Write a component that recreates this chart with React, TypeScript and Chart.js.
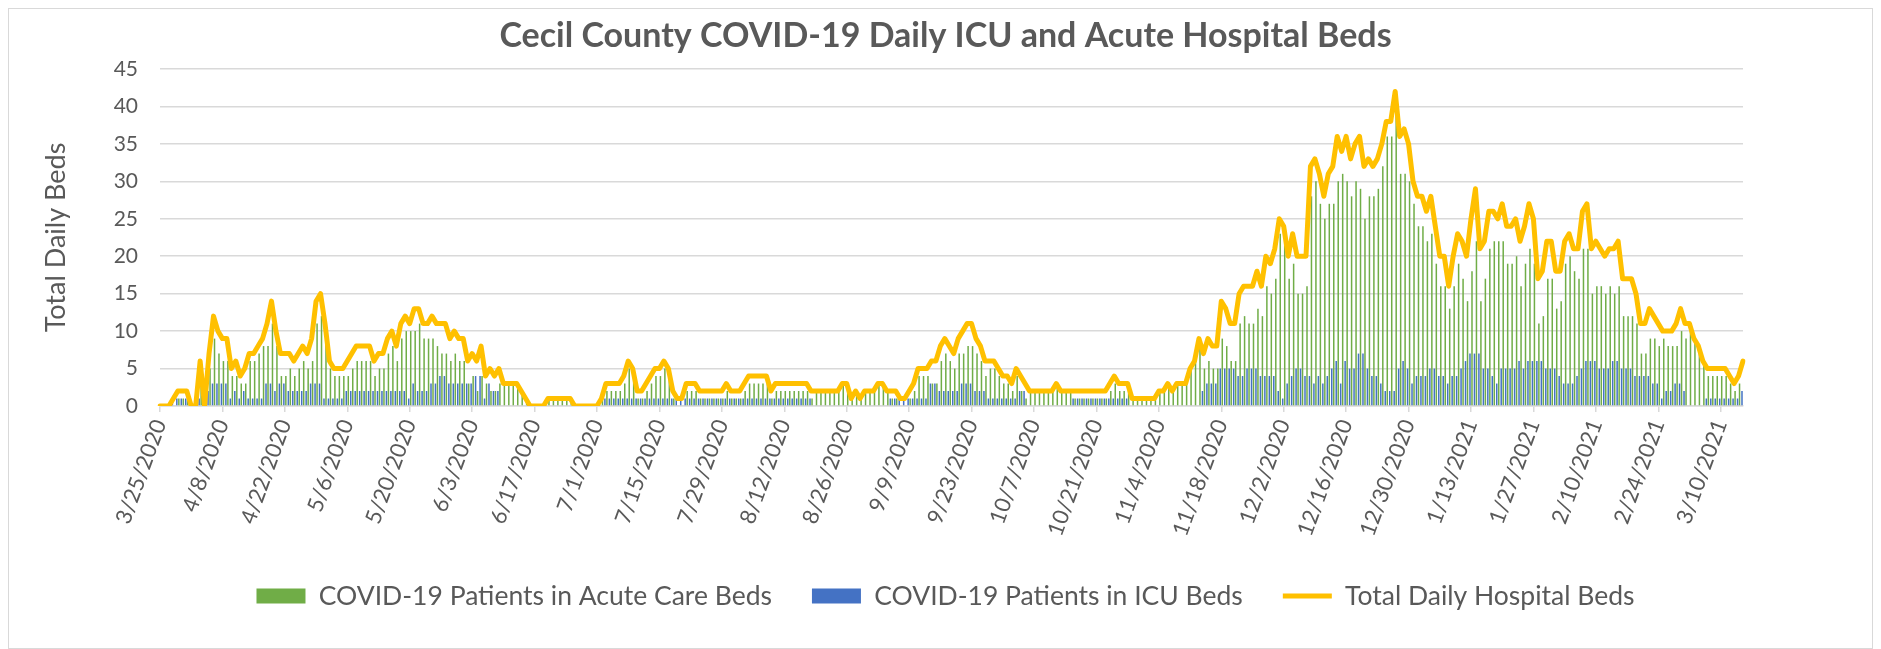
import { useEffect, useRef } from "react";
import { Chart, registerables } from "chart.js";

Chart.register(...registerables);

const CHART_TITLE = "Cecil County COVID-19 Daily ICU and Acute Hospital Beds";
const Y_TITLE = "Total Daily Beds";
const SERIES_NAMES = [
  "COVID-19 Patients in Acute Care Beds",
  "COVID-19 Patients in ICU Beds",
  "Total Daily Hospital Beds",
];
// first day of the series: year, month, day
const START_DATE = [2020, 3, 25];
// a date label is shown every TICK_EVERY days
const TICK_EVERY = 14;
const Y_MIN = 0;
const Y_MAX = 45;
const Y_STEP = 5;

const TOTAL_BEDS = [
  0, 0, 0, 1, 2, 2, 2, 0, 0, 6,
  0, 7, 12, 10, 9, 9, 5, 6, 4, 5,
  7, 7, 8, 9, 11, 14, 10, 7, 7, 7,
  6, 7, 8, 7, 9, 14, 15, 11, 6, 5,
  5, 5, 6, 7, 8, 8, 8, 8, 6, 7,
  7, 9, 10, 8, 11, 12, 11, 13, 13, 11,
  11, 12, 11, 11, 11, 9, 10, 9, 9, 6,
  7, 6, 8, 4, 5, 4, 5, 3, 3, 3,
  3, 2, 1, 0, 0, 0, 0, 1, 1, 1,
  1, 1, 1, 0, 0, 0, 0, 0, 0, 1,
  3, 3, 3, 3, 4, 6, 5, 2, 2, 3,
  4, 5, 5, 6, 5, 2, 1, 1, 3, 3,
  3, 2, 2, 2, 2, 2, 2, 3, 2, 2,
  2, 3, 4, 4, 4, 4, 4, 2, 3, 3,
  3, 3, 3, 3, 3, 3, 2, 2, 2, 2,
  2, 2, 2, 3, 3, 1, 2, 1, 2, 2,
  2, 3, 3, 2, 2, 2, 1, 1, 2, 3,
  5, 5, 5, 6, 6, 8, 9, 8, 7, 9,
  10, 11, 11, 9, 8, 6, 6, 6, 5, 4,
  4, 3, 5, 4, 3, 2, 2, 2, 2, 2,
  2, 3, 2, 2, 2, 2, 2, 2, 2, 2,
  2, 2, 2, 3, 4, 3, 3, 3, 1, 1,
  1, 1, 1, 1, 2, 2, 3, 2, 3, 3,
  3, 5, 6, 9, 7, 9, 8, 8, 14, 13,
  11, 11, 15, 16, 16, 16, 18, 16, 20, 19,
  21, 25, 24, 20, 23, 20, 20, 20, 32, 33,
  31, 28, 31, 32, 36, 34, 36, 33, 35, 36,
  32, 33, 32, 33, 35, 38, 38, 42, 36, 37,
  35, 30, 28, 28, 26, 28, 24, 20, 20, 16,
  20, 23, 22, 20, 25, 29, 21, 22, 26, 26,
  25, 27, 24, 24, 25, 22, 24, 27, 25, 17,
  18, 22, 22, 18, 18, 22, 23, 21, 21, 26,
  27, 21, 22, 21, 20, 21, 21, 22, 17, 17,
  17, 15, 11, 11, 13, 12, 11, 10, 10, 10,
  11, 13, 11, 11, 9, 8, 6, 5, 5, 5,
  5, 5, 4, 3, 4, 6,
];

const ICU_BEDS = [
  0, 0, 0, 1, 1, 1, 1, 0, 0, 1,
  0, 2, 3, 3, 3, 3, 1, 2, 1, 2,
  1, 1, 1, 1, 3, 3, 2, 3, 3, 2,
  2, 2, 2, 2, 3, 3, 3, 1, 1, 1,
  1, 1, 2, 2, 2, 2, 2, 2, 2, 2,
  2, 2, 2, 2, 2, 2, 1, 3, 2, 2,
  2, 3, 3, 4, 4, 3, 3, 3, 3, 3,
  3, 4, 4, 1, 3, 2, 2, 0, 0, 0,
  0, 0, 0, 0, 0, 0, 0, 0, 0, 0,
  0, 0, 0, 0, 0, 0, 0, 0, 0, 0,
  1, 1, 1, 1, 1, 1, 1, 1, 1, 1,
  1, 1, 1, 1, 1, 1, 1, 1, 1, 1,
  1, 1, 1, 1, 1, 1, 1, 1, 1, 1,
  1, 1, 1, 1, 1, 1, 1, 1, 1, 1,
  1, 1, 1, 1, 1, 1, 1, 0, 0, 0,
  0, 0, 0, 0, 0, 0, 0, 0, 0, 0,
  0, 0, 0, 0, 1, 1, 1, 1, 1, 1,
  1, 1, 1, 3, 3, 2, 2, 2, 2, 2,
  3, 3, 3, 2, 2, 2, 1, 1, 1, 1,
  1, 1, 1, 2, 2, 0, 0, 0, 0, 0,
  0, 0, 0, 0, 0, 1, 1, 1, 1, 1,
  1, 1, 1, 1, 1, 1, 1, 1, 0, 0,
  0, 0, 0, 0, 0, 0, 0, 0, 0, 0,
  0, 0, 0, 0, 2, 3, 3, 3, 5, 5,
  5, 5, 4, 4, 5, 5, 5, 4, 4, 4,
  4, 2, 1, 3, 4, 5, 5, 4, 4, 3,
  4, 3, 4, 5, 6, 3, 6, 5, 5, 7,
  7, 5, 4, 4, 3, 2, 2, 2, 5, 6,
  5, 3, 4, 4, 4, 5, 5, 4, 4, 3,
  4, 4, 5, 6, 7, 7, 7, 5, 5, 4,
  3, 5, 5, 5, 5, 6, 5, 6, 6, 6,
  6, 5, 5, 5, 4, 3, 3, 3, 4, 5,
  6, 6, 6, 5, 5, 5, 6, 6, 5, 5,
  5, 4, 4, 4, 4, 3, 3, 1, 2, 2,
  3, 3, 2, 0, 0, 0, 0, 1, 1, 1,
  1, 1, 1, 1, 1, 2,
];

const ACUTE_BEDS = [
  0, 0, 0, 0, 1, 1, 1, 0, 0, 5,
  0, 5, 9, 7, 6, 6, 4, 4, 3, 3,
  6, 6, 7, 8, 8, 11, 8, 4, 4, 5,
  4, 5, 6, 5, 6, 11, 12, 10, 5, 4,
  4, 4, 4, 5, 6, 6, 6, 6, 4, 5,
  5, 7, 8, 6, 9, 10, 10, 10, 11, 9,
  9, 9, 8, 7, 7, 6, 7, 6, 6, 3,
  4, 2, 4, 3, 2, 2, 3, 3, 3, 3,
  3, 2, 1, 0, 0, 0, 0, 1, 1, 1,
  1, 1, 1, 0, 0, 0, 0, 0, 0, 1,
  2, 2, 2, 2, 3, 5, 4, 1, 1, 2,
  3, 4, 4, 5, 4, 1, 0, 0, 2, 2,
  2, 1, 1, 1, 1, 1, 1, 2, 1, 1,
  1, 2, 3, 3, 3, 3, 3, 1, 2, 2,
  2, 2, 2, 2, 2, 2, 1, 2, 2, 2,
  2, 2, 2, 3, 3, 1, 2, 1, 2, 2,
  2, 3, 3, 2, 1, 1, 0, 0, 1, 2,
  4, 4, 4, 3, 3, 6, 7, 6, 5, 7,
  7, 8, 8, 7, 6, 4, 5, 5, 4, 3,
  3, 2, 4, 2, 1, 2, 2, 2, 2, 2,
  2, 3, 2, 2, 2, 1, 1, 1, 1, 1,
  1, 1, 1, 2, 3, 2, 2, 2, 1, 1,
  1, 1, 1, 1, 2, 2, 3, 2, 3, 3,
  3, 5, 6, 9, 5, 6, 5, 5, 9, 8,
  6, 6, 11, 12, 11, 11, 13, 12, 16, 15,
  17, 23, 23, 17, 19, 15, 15, 16, 28, 30,
  27, 25, 27, 27, 30, 31, 30, 28, 30, 29,
  25, 28, 28, 29, 32, 36, 36, 40, 31, 31,
  30, 27, 24, 24, 22, 23, 19, 16, 16, 13,
  16, 19, 17, 14, 18, 22, 14, 17, 21, 22,
  22, 22, 19, 19, 20, 16, 19, 21, 19, 11,
  12, 17, 17, 13, 14, 19, 20, 18, 17, 21,
  21, 15, 16, 16, 15, 16, 15, 16, 12, 12,
  12, 11, 7, 7, 9, 9, 8, 9, 8, 8,
  8, 10, 9, 11, 9, 8, 6, 4, 4, 4,
  4, 4, 3, 2, 3, 4,
];

function makeDateLabels(count: number): string[] {
  const out: string[] = [];
  for (let i = 0; i < count; i++) {
    const d = new Date(Date.UTC(START_DATE[0], START_DATE[1] - 1, START_DATE[2] + i));
    out.push(`${d.getUTCMonth() + 1}/${d.getUTCDate()}/${d.getUTCFullYear()}`);
  }
  return out;
}

const FONT = "Lato, 'Open Sans', 'DejaVu Sans', sans-serif";
const TEXT = "#595959";
const GRID = "#d9d9d9";

// let the rotated date labels run below the x-axis box instead of being clipped
const unclipXLabels = {
  id: "unclipXLabels",
  afterLayout(chart: any) {
    const s = chart.scales.x;
    if (s) s.bottom = chart.height;
  },
};

export default function App() {
  const canvasRef = useRef<HTMLCanvasElement | null>(null);

  useEffect(() => {
    if (!canvasRef.current) return;
    const labels = makeDateLabels(TOTAL_BEDS.length);
    const chart = new Chart(canvasRef.current, {
      type: "bar",
      data: {
        labels,
        datasets: [
          {
            type: "bar",
            label: SERIES_NAMES[0],
            data: ACUTE_BEDS,
            backgroundColor: "#70AD47",
            borderWidth: 0,
            pointStyle: "rect",
            categoryPercentage: 0.9,
            barPercentage: 0.75,
            order: 2,
          } as any,
          {
            type: "bar",
            label: SERIES_NAMES[1],
            data: ICU_BEDS,
            backgroundColor: "#4472C4",
            borderWidth: 0,
            pointStyle: "rect",
            categoryPercentage: 0.9,
            barPercentage: 0.75,
            order: 1,
          } as any,
          {
            type: "line",
            label: SERIES_NAMES[2],
            data: TOTAL_BEDS,
            borderColor: "#FFC000",
            backgroundColor: "#FFC000",
            borderWidth: 5,
            pointRadius: 0,
            pointHoverRadius: 0,
            tension: 0,
            borderJoinStyle: "round",
            borderCapStyle: "round",
            pointStyle: "line",
            order: 0,
          } as any,
        ],
      },
      options: {
        animation: false,
        responsive: true,
        maintainAspectRatio: false,
        layout: { padding: { left: 10, right: 0, top: 0, bottom: 28.75 } },
        plugins: {
          title: {
            display: true,
            text: CHART_TITLE,
            color: TEXT,
            font: { family: FONT, size: 34, weight: "bold" },
            padding: { top: 6.6, bottom: 12.6 },
          },
          legend: {
            position: "bottom",
            labels: {
              usePointStyle: true,
              pointStyleWidth: 49,
              boxHeight: 15,
              color: TEXT,
              font: { family: FONT, size: 26.5 },
              padding: 40,
              sort: (a: any, b: any) => a.datasetIndex - b.datasetIndex,
            },
          },
          tooltip: { enabled: false },
        },
        scales: {
          x: {
            type: "category",
            offset: false,
            grid: {
              display: true,
              offset: false,
              drawOnChartArea: false,
              drawTicks: true,
              tickLength: 6,
              lineWidth: 1.5,
              color: (c: any) => (c.index % TICK_EVERY === 0 ? GRID : "rgba(0,0,0,0)"),
            },
            border: { display: true, color: GRID, width: 1.5 },
            ticks: {
              autoSkip: false,
              minRotation: 70,
              maxRotation: 70,
              padding: 4,
              color: TEXT,
              font: { family: FONT, size: 22 },
              callback: (_v: any, i: number) => (i % TICK_EVERY === 0 ? labels[i] : ""),
            },
            afterFit: (s: any) => {
              s.height = 136.75;
            },
          },
          y: {
            position: "left",
            min: Y_MIN,
            max: Y_MAX,
            ticks: { stepSize: Y_STEP, padding: 22, color: TEXT, font: { family: FONT, size: 21 } },
            grid: { color: GRID, lineWidth: 1.5, drawTicks: false },
            border: { display: false },
            title: {
              display: true,
              text: Y_TITLE,
              color: TEXT,
              font: { family: FONT, size: 27 },
              padding: { top: 20.8, bottom: 0 },
            },
            afterFit: (s: any) => {
              s.width = 141;
            },
          },
          yRight: {
            position: "right",
            display: true,
            grid: { display: false },
            ticks: { display: false },
            border: { display: false },
            afterFit: (s: any) => {
              s.width = 129;
            },
          },
        },
      } as any,
      plugins: [unclipXLabels],
    });
    return () => chart.destroy();
  }, []);

  return (
    <div
      style={{
        position: "relative",
        width: "100%",
        height: 641,
        border: `1px solid ${GRID}`,
        boxSizing: "border-box",
        background: "#fff",
      }}
    >
      <canvas ref={canvasRef} />
    </div>
  );
}
